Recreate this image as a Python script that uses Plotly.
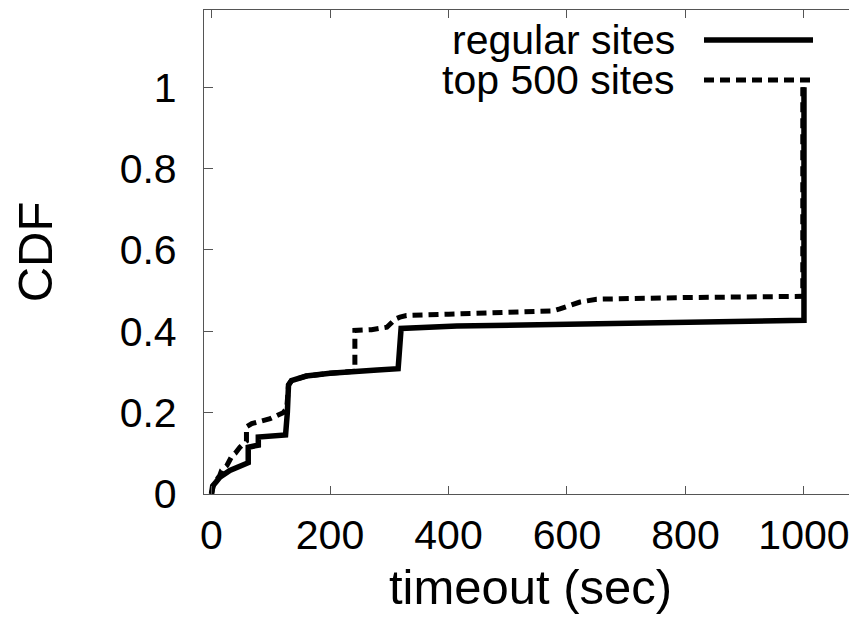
import plotly.graph_objects as go

# ---------------- data ----------------
series_names = ["regular sites", "top 500 sites"]

regular_x = [0, 2, 8, 14, 31, 48, 60, 62, 62, 70, 79, 79, 100, 125, 128, 130, 135, 145, 160, 200,
             239, 280, 315, 318, 320, 414, 500, 605, 723, 850, 1000, 1000]
regular_y = [0, 0.02, 0.03, 0.041, 0.058, 0.07, 0.075, 0.077, 0.115, 0.118, 0.12, 0.14, 0.142, 0.145,
             0.2, 0.268, 0.279, 0.284, 0.29, 0.297, 0.302, 0.305, 0.308, 0.405, 0.407, 0.413, 0.415,
             0.417, 0.423, 0.425, 0.427, 1.0]

top500_x = [0, 3, 8, 14, 17, 26, 35, 40, 48, 56, 59, 59, 68, 99, 110, 121, 127, 130, 135, 145, 160, 200,
            242, 242, 270, 296, 310, 318, 329, 400, 500, 576, 588, 622, 650, 700, 800, 998, 998]
top500_y = [0, 0.02, 0.033, 0.046, 0.058, 0.07, 0.095, 0.10, 0.115, 0.124, 0.13, 0.165, 0.173, 0.185,
            0.193, 0.20, 0.21, 0.268, 0.279, 0.284, 0.29, 0.297, 0.302, 0.402, 0.404, 0.41, 0.43, 0.435,
            0.439, 0.442, 0.446, 0.45, 0.455, 0.472, 0.479, 0.481, 0.483, 0.486, 1.0]

x_ticks = [0, 200, 400, 600, 800, 1000]
y_ticks = [0, 0.2, 0.4, 0.6, 0.8, 1]
y_tick_labels = ["0", "0.2", "0.4", "0.6", "0.8", "1"]

x_title = "timeout (sec)"
y_title = "CDF"

# ---------------- figure ----------------
FONT = "Liberation Sans, Arial, Helvetica, sans-serif"
FS = 41
# the page body adds an 8px offset; figure sized so the plot frame lands where the reference has it
W, H = 849, 611
ML, MT, MB, MR = 196, 2, 125, 0

fig = go.Figure()
fig.add_trace(go.Scatter(x=top500_x, y=top500_y, mode="lines", name=series_names[1],
                         line=dict(color="black", width=5, dash="10px,6px"), showlegend=False))
fig.add_trace(go.Scatter(x=regular_x, y=regular_y, mode="lines", name=series_names[0],
                         line=dict(color="black", width=5.5), showlegend=False))

frame_col = "#555555"
fig.update_layout(
    width=W, height=H,
    margin=dict(l=ML, r=MR, t=MT, b=MB, pad=0, autoexpand=False),
    paper_bgcolor="white", plot_bgcolor="white",
    font=dict(family=FONT, size=FS, color="black"),
    xaxis=dict(range=[-12.66, 1089.5], tickvals=x_ticks, ticks="inside", ticklen=8,
               tickcolor=frame_col, tickwidth=1, showline=True, linecolor=frame_col, linewidth=1.3,
               mirror="ticks", showgrid=False, zeroline=False, ticklabelstandoff=5, automargin=False,
               title=dict(text=x_title, standoff=12)),
    yaxis=dict(range=[0, 1.19], tickvals=y_ticks, ticktext=y_tick_labels, ticks="inside", ticklen=9,
               tickcolor=frame_col, tickwidth=1, showline=True, linecolor=frame_col, linewidth=1.3,
               mirror=False, showgrid=False, zeroline=False, ticklabelstandoff=18, automargin=False,
               title=dict(text=y_title, standoff=52)),
    yaxis2=dict(range=[0, 1.19], tickvals=y_ticks, overlaying="y", side="right", anchor="x",
                ticks="inside", ticklen=3, tickcolor=frame_col, showticklabels=False,
                showline=False, showgrid=False, zeroline=False, automargin=False),
)

# gnuplot-style key: text right-aligned, line sample to its right
plot_h = H - MT - MB
plot_w = W - ML - MR
top_px, left_px = 10, 204  # plot frame position on the page
rows_y = [1 - (40 - top_px) / plot_h, 1 - (80 - top_px) / plot_h]
text_x = (677 - left_px) / plot_w
line_x0 = (704 - left_px) / plot_w
line_x1 = (813 - left_px) / plot_w
styles = [dict(color="black", width=5.5), dict(color="black", width=5, dash="10px,6px")]
for name, yy, st in zip(series_names, rows_y, styles):
    fig.add_annotation(x=text_x, y=yy, xref="paper", yref="paper", text=name, showarrow=False,
                       xanchor="right", yanchor="middle", font=dict(family=FONT, size=FS, color="black"))
    fig.add_shape(type="line", xref="paper", yref="paper", x0=line_x0, x1=line_x1, y0=yy, y1=yy, line=st)

fig.write_html("out.html")
